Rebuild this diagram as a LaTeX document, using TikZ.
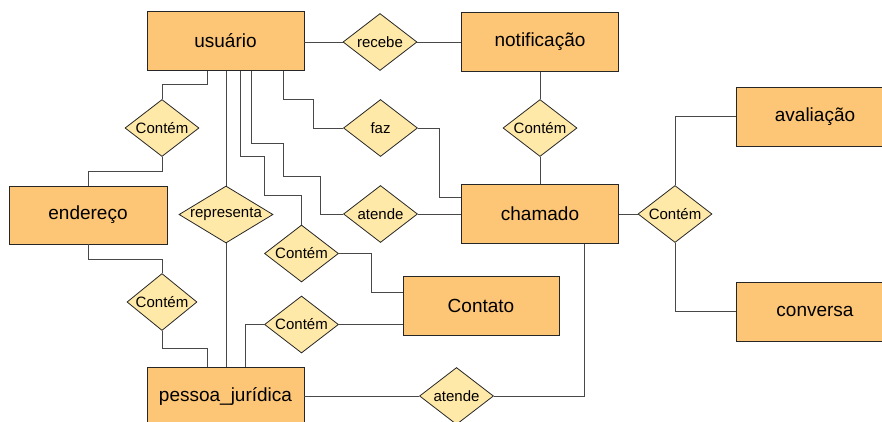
\documentclass[tikz,border=0pt]{standalone}
\usepackage{fontspec}
\setmainfont{Liberation Sans}
\usetikzlibrary{shapes.geometric}
\definecolor{entfill}{HTML}{FDC576}
\definecolor{relfill}{HTML}{FFE9A8}
\definecolor{edgecol}{HTML}{484848}
\begin{document}
\begin{tikzpicture}[x=1pt, y=-1pt,
    entity/.style={draw=black!85, fill=entfill, line width=0.9pt, minimum width=157pt,
        minimum height=59pt, inner sep=0, font=\fontsize{19}{22}\selectfont},
    rel/.style={diamond, draw=black!85, fill=relfill, line width=0.8pt, inner sep=0,
        aspect=1.3, minimum width=74pt, minimum height=57pt, font=\fontsize{15}{18}\selectfont},
    link/.style={draw=edgecol, line width=1pt}]
\useasboundingbox (0, 0) rectangle (882, 421);
\node[entity] (usuario) at (225.5, 41) {usuário};
\node[entity] (notificacao) at (540, 42) {notificação};
\node[entity] (chamado) at (540, 214) {chamado};
\node[entity, minimum width=158pt] (avaliacao) at (815, 116.5) {avaliação};
\node[entity, minimum width=158pt] (conversa) at (815, 311.5) {conversa};
\node[entity, minimum width=158pt, minimum height=58pt] (endereco) at (88, 215) {endereço};
\node[entity, minimum width=156pt] (contato) at (481, 305.5) {Contato};
\node[entity] (pessoa) at (225.5, 396.5) {pessoa\_jurídica};
\node[rel] (recebe) at (380, 42) {recebe};
\node[rel] (contem-1) at (540, 128) {Contém};
\node[rel] (contem-2) at (675, 214) {Contém};
\node[rel] (contem-3) at (162, 128) {Contém};
\node[rel, aspect=1.65, minimum width=94pt] (representa) at (226, 214.5) {representa};
\node[rel] (faz) at (380.5, 128) {faz};
\node[rel] (atende-1) at (380.5, 214) {atende};
\node[rel] (contem-4) at (301.5, 253.5) {Contém};
\node[rel] (contem-5) at (301.5, 324.5) {Contém};
\node[rel, minimum width=70pt] (contem-6) at (162, 302) {Contém};
\node[rel] (atende-2) at (456.5, 396) {atende};
\path[link] (recebe.west -| usuario.east) -- (recebe.west);
\path[link] (recebe.east) -- (recebe.east -| notificacao.west);
\path[link] (notificacao.south) -- (contem-1.north);
\path[link] (contem-1.south) -- (chamado.north);
\path[link] (chamado.east) -- (contem-2.west);
\path[link] (contem-2.north) |- (avaliacao.west);
\path[link] (contem-2.south) |- (conversa.west);
\path[link] ([xshift=61pt]usuario.south west) -- ++(0, 14) -| (contem-3.north);
\path[link] (contem-3.south) -- ++(0, 15) -| (endereco.north);
\path[link] (representa.north |- usuario.south) -- (representa.north);
\path[link] (representa.south) -- (representa.south |- pessoa.north);
\path[link] ([xshift=137pt]usuario.south west) -- ++(0, 29) -- ++(30, 0) |- (faz.west);
\path[link] (faz.east) -- ++(22, 0) |- ([yshift=17pt]chamado.west);
\path[link] ([xshift=105pt]usuario.south west) -- ++(0, 73) -- ++(32, 0) -- ++(0, 33)
    -- ++(37, 0) |- (atende-1.west);
\path[link] (atende-1.east) -- (chamado.west);
\path[link] ([xshift=94pt]usuario.south west) -- ++(0, 86) -- ++(24, 0) -- ++(0, 39)
    -| (contem-4.north);
\path[link] (contem-4.east) -- ++(33, 0) |- ([yshift=13.5pt]contato.west);
\path[link] (contem-5.east) -- (contem-5.east -| contato.west);
\path[link] (contem-5.west) -| ([xshift=99pt]pessoa.north west);
\path[link] (endereco.south) -- ++(0, 15) -| (contem-6.north);
\path[link] (contem-6.south) -- ++(0, 18) -| ([xshift=61pt]pessoa.north west);
\path[link] (atende-2.west -| pessoa.east) -- (atende-2.west);
\path[link] (atende-2.east) -| ([xshift=44pt]chamado.south);
\end{tikzpicture}
\end{document}
